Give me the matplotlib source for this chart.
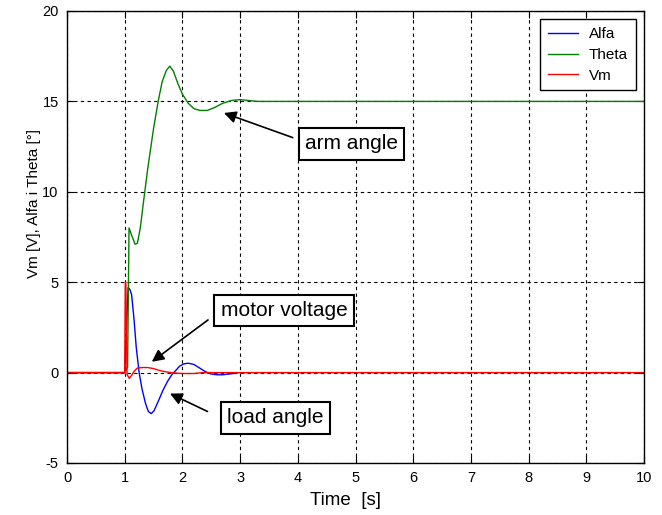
import matplotlib
matplotlib.use('Agg')
import matplotlib.pyplot as plt

plt.rcParams['font.family'] = ['Liberation Sans', 'DejaVu Sans']
plt.rcParams['axes.unicode_minus'] = False

# Alfa (load angle) - simulation stops near t = 2.9 s
t_alfa = [0, 1.0, 1.02, 1.04, 1.06, 1.09, 1.12, 1.16, 1.20, 1.25, 1.30, 1.36, 1.41, 1.46,
          1.51, 1.58, 1.66, 1.74, 1.82, 1.88, 1.95, 2.02, 2.10, 2.20, 2.30, 2.40, 2.50,
          2.60, 2.70, 2.80, 2.92]
alfa = [0, 0, 1.5, 3.2, 4.7, 4.6, 4.3, 3.0, 1.4, 0.0, -0.9, -1.7, -2.15, -2.27,
        -2.1, -1.6, -1.0, -0.5, -0.1, 0.1, 0.35, 0.48, 0.52, 0.45, 0.25, 0.05, -0.08,
        -0.12, -0.12, -0.08, -0.04]

# Theta (arm angle)
t_theta = [0, 1.0, 1.05, 1.075, 1.12, 1.18, 1.22, 1.27, 1.32, 1.40, 1.50, 1.58, 1.65,
           1.72, 1.78, 1.84, 1.92, 2.00, 2.10, 2.20, 2.30, 2.43, 2.55, 2.70, 2.85, 3.00,
           3.15, 3.30, 10]
theta = [0, 0, 0.3, 8.0, 7.6, 7.1, 7.15, 8.0, 9.3, 11.3, 13.5, 15.0, 16.1,
         16.7, 16.95, 16.7, 16.0, 15.4, 14.9, 14.6, 14.5, 14.5, 14.65, 14.9, 15.05, 15.1,
         15.05, 15.0, 15.0]

# Vm (motor voltage)
t_vm = [0, 1.0, 1.01, 1.02, 1.04, 1.08, 1.12, 1.17, 1.22, 1.30, 1.40, 1.50, 1.60, 1.70,
        1.80, 1.90, 2.00, 2.20, 2.35, 10]
vm = [0, 0, 5.0, 5.0, -0.1, -0.32, -0.15, 0.1, 0.25, 0.28, 0.28, 0.22, 0.12, 0.05,
      0.0, -0.03, -0.05, -0.05, 0.0, 0.0]

series_names = ['Alfa', 'Theta', 'Vm']

fig = plt.figure(figsize=(6.62, 5.15), dpi=100)
ax = fig.add_axes([67 / 662, 52 / 515, 577 / 662, 452 / 515])

ax.plot(t_alfa, alfa, color='#0000ff', lw=1.0, label=series_names[0])
ax.plot(t_theta, theta, color='#008000', lw=1.0, label=series_names[1])
ax.plot(t_vm, vm, color='#ff0000', lw=1.0, label=series_names[2])

ax.set_xlim(0, 10)
ax.set_ylim(-5, 20)
ax.set_xticks(range(0, 11))
ax.set_yticks(range(-5, 21, 5))
ax.grid(True, color='k', linestyle=(0, (3, 3)), linewidth=0.8)
ax.tick_params(direction='in', top=True, right=True, length=5, width=0.8,
               labelsize=10.5, pad=6)
for s in ax.spines.values():
    s.set_linewidth(1.0)

ax.set_xlabel('Time  [s]', fontsize=13.5)
ax.xaxis.set_label_coords(0.482, -0.082)
ax.xaxis.label.set_va('center')
ax.set_ylabel('Vm [V], Alfa i Theta [°]', fontsize=11)
ax.yaxis.set_label_coords(-0.058, 0.575)
ax.yaxis.label.set_va('center')

leg = ax.legend(loc='upper right', fontsize=11, fancybox=False, framealpha=1,
                edgecolor='k', borderaxespad=0.55, handlelength=2.0, handletextpad=0.7,
                labelspacing=0.45, borderpad=0.5)
leg.get_frame().set_linewidth(1.0)

box = dict(boxstyle='square,pad=0.3', fc='w', ec='k', lw=1.5)
arrow = dict(arrowstyle='-|>', color='k', lw=1.2, mutation_scale=18, shrinkA=4, shrinkB=0)

ax.annotate('arm angle', xy=(2.72, 14.36), xytext=(4.93, 12.65),
            ha='center', va='center', fontsize=15, bbox=box,
            arrowprops=dict(arrow, relpos=(0, 0.6)))
ax.annotate('motor voltage', xy=(1.47, 0.6), xytext=(3.76, 3.43),
            ha='center', va='center', fontsize=15, bbox=box,
            arrowprops=dict(arrow, relpos=(0, 0.5), shrinkA=5))
ax.annotate('load angle', xy=(1.785, -1.16), xytext=(3.61, -2.51),
            ha='center', va='center', fontsize=15, bbox=box,
            arrowprops=dict(arrow, relpos=(0, 0.35), shrinkA=10))

fig.savefig('out.png', dpi=100)
